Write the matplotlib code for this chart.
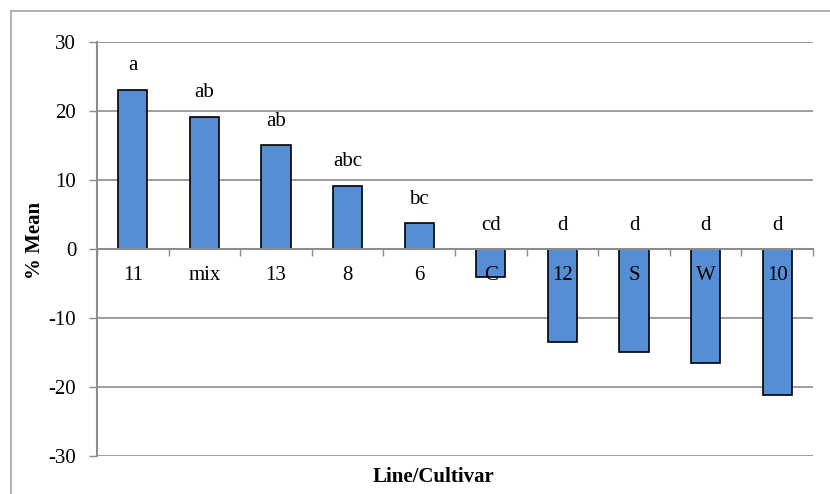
import matplotlib.pyplot as plt
from matplotlib.lines import Line2D

# dati
categories = ['11', 'mix', '13', '8', '6', 'C', '12', 'S', 'W', '10']
values = [23.1, 19.2, 15.1, 9.2, 3.8, -4.0, -13.5, -14.9, -16.5, -21.1]
letters = ['a', 'ab', 'ab', 'abc', 'bc', 'cd', 'd', 'd', 'd', 'd']
y_ticks = [-30, -20, -10, 0, 10, 20, 30]

plt.rcParams['font.family'] = ['Liberation Serif', 'DejaVu Serif']
fs = 15

W, H = 830, 494
fig = plt.figure(figsize=(W / 100, H / 100), dpi=100)
ax = fig.add_axes([97 / W, (H - 456) / H, (813 - 97) / W, (456 - 42) / H])

grid_col = '#8c8c8c'
x = list(range(len(categories)))
ax.bar(x, values, width=0.41, color='#558ed5', edgecolor='black', linewidth=1.2, zorder=3)

for xi, v, lab in zip(x, values, letters):
    ax.annotate(lab, (xi, max(v, 0)), xytext=(0, 17), textcoords='offset points',
                ha='center', va='center', fontsize=fs)

ax.set_xlim(-0.5, len(categories) - 0.5)
ax.set_ylim(-30, 30)
ax.set_yticks(y_ticks)
ax.set_yticklabels([str(t) for t in y_ticks], fontsize=fs)
ax.yaxis.grid(True, color=grid_col, linewidth=1.2, zorder=0)
ax.tick_params(axis='y', length=6, width=1, color=grid_col, pad=9)

# asse x sullo zero, etichette sopra le barre
ax.spines['bottom'].set_position(('data', 0))
ax.spines['bottom'].set_color(grid_col)
ax.spines['bottom'].set_linewidth(1.5)
ax.spines['bottom'].set_zorder(4)
ax.spines['left'].set_color(grid_col)
ax.spines['left'].set_linewidth(1.5)
ax.spines['top'].set_visible(False)
ax.spines['right'].set_visible(False)
ax.set_xticks(x)
ax.set_xticklabels(categories, fontsize=fs)
ax.set_xticks([i - 0.5 for i in range(len(categories) + 1)], minor=True)
ax.tick_params(axis='x', which='major', length=0, pad=12)
ax.tick_params(axis='x', which='minor', length=5, width=1, color=grid_col, direction='out')
ax.xaxis.set_zorder(5)

fig.text(433 / W, 1 - 477 / H, 'Line/Cultivar', ha='center', va='center',
         fontsize=fs, fontweight='bold')
fig.text(35 / W, 1 - 240 / H, '% Mean', ha='center', va='center',
         fontsize=fs, fontweight='bold', rotation=90)

# cornice esterna
fig.add_artist(Line2D([11 / W, 1], [1 - 11 / H, 1 - 11 / H], color='#a6a6a6', linewidth=1.2,
                      transform=fig.transFigure))
fig.add_artist(Line2D([11 / W, 11 / W], [0, 1 - 11 / H], color='#a6a6a6', linewidth=1.2,
                      transform=fig.transFigure))

fig.savefig('out.png', dpi=100)
